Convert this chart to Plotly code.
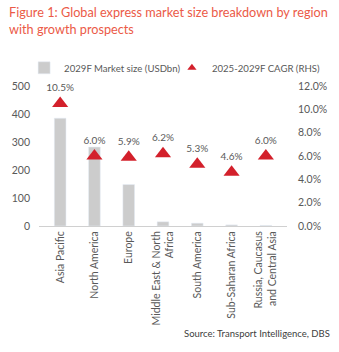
import plotly.graph_objects as go

regions = ["Asia Pacific", "North America", "Europe", "Middle East & North<br>Africa",
           "South America", "Sub-Saharan Africa", "Russia, Caucasus<br>and Central Asia"]
market_size = [385, 282, 148, 15, 10, 4, 2]
cagr = [10.5, 6.0, 5.9, 6.2, 5.3, 4.6, 6.0]
cagr_labels = ["10.5%", "6.0%", "5.9%", "6.2%", "5.3%", "4.6%", "6.0%"]

FONT = "Lato"
GRAY = "#595959"
RED = "#d3202b"

fig = go.Figure()
fig.add_trace(go.Bar(
    x=regions, y=market_size, name="2029F Market size (USDbn)",
    marker=dict(color="#cccccc"), width=0.34, legend="legend",
))
fig.add_trace(go.Scatter(
    x=regions, y=cagr, name="2025-2029F CAGR (RHS)", yaxis="y2",
    mode="markers+text", text=cagr_labels, textposition="top center",
    textfont=dict(size=10, color=GRAY, family=FONT),
    marker=dict(symbol="triangle-up", size=14, color=RED),
    cliponaxis=False, showlegend=False,
))
# legend-only entry with a smaller symbol, as in the reference legend
fig.add_trace(go.Scatter(
    x=[None], y=[None], name="2025-2029F CAGR (RHS)", yaxis="y2", mode="markers",
    marker=dict(symbol="triangle-up", size=8, color=RED), legend="legend2",
))

leg_common = dict(orientation="h", y=1.13, yanchor="middle", xanchor="left",
                  font=dict(size=9.6, color=GRAY), itemwidth=30,
                  bgcolor="rgba(0,0,0,0)")

fig.update_layout(
    width=339, height=352,
    margin=dict(l=39, r=52, t=86, b=126),
    paper_bgcolor="white", plot_bgcolor="white",
    font=dict(family=FONT, size=10, color=GRAY),
    showlegend=True,
    legend=dict(x=-0.06, **leg_common),
    legend2=dict(x=0.536, **leg_common),
    bargap=0.66,
    xaxis=dict(tickangle=-90, showline=True, linecolor="#d0d0d0", linewidth=1,
               showgrid=False, ticks="", tickfont=dict(size=10.5, color=GRAY)),
    yaxis=dict(range=[0, 500], dtick=100, showgrid=False, zeroline=False,
               ticks="", tickfont=dict(size=10.5, color=GRAY), ticklabelstandoff=8),
    yaxis2=dict(range=[0, 12], dtick=2, overlaying="y", side="right",
                showgrid=False, zeroline=False, ticks="", tickformat=".1f", ticksuffix="%",
                tickfont=dict(size=10.5, color=GRAY), ticklabelstandoff=10),
    annotations=[
        dict(text="Figure 1: Global express market size breakdown by region<br>with growth prospects",
             xref="paper", yref="paper", x=-0.129, y=1.6, xanchor="left", yanchor="top",
             align="left", showarrow=False,
             font=dict(family=FONT, size=12.7, color="#eb5a47")),
        dict(text="Source: Transport Intelligence, DBS", xref="paper", yref="paper",
             x=1.18, y=-0.77, xanchor="right", yanchor="middle", showarrow=False,
             font=dict(family=FONT, size=9.5, color="#404040")),
    ],
)

fig.write_html("out.html")
